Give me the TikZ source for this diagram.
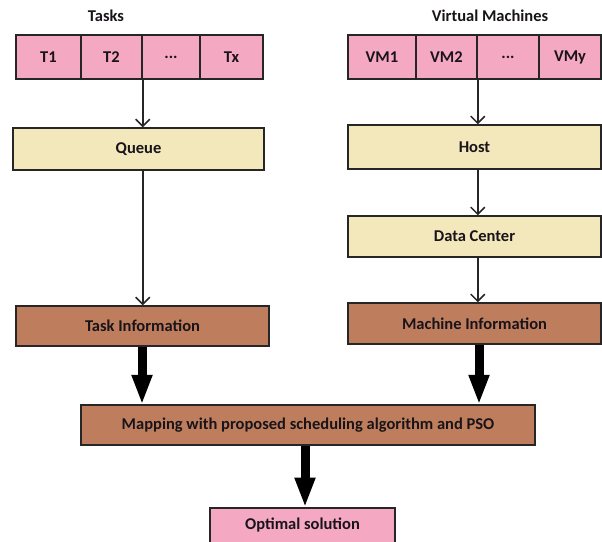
\documentclass[tikz,border=0pt]{standalone}
\usepackage{fontspec}
\setmainfont{Carlito}
\usetikzlibrary{arrows.meta}
\definecolor{pinkfill}{RGB}{245,168,194}
\definecolor{tanfill}{RGB}{243,232,188}
\definecolor{brownfill}{RGB}{190,126,94}
\definecolor{txt}{RGB}{25,20,25}
\tikzset{
  lbl/.style={text=txt, font=\fontsize{16.5}{19}\selectfont\bfseries},
  cell/.style={lbl, draw=black!85, line width=1.5pt, fill=pinkfill, inner sep=0pt, minimum height=44pt},
  tanbox/.style={lbl, draw=black!85, line width=1.5pt, fill=tanfill, inner sep=0pt},
  brownbox/.style={lbl, draw=black!85, line width=1.5pt, fill=brownfill, inner sep=0pt},
  pinkbox/.style={lbl, draw=black!85, line width=1.5pt, fill=pinkfill, inner sep=0pt},
  title/.style={lbl, inner sep=0pt},
  thin/.style={draw=black!85, line width=1.5pt, -{Straight Barb[length=7pt,width=14pt,line width=1.5pt]}},
  thick/.style={draw=black, line width=9pt, -{Triangle[length=30pt,width=19pt]}, shorten >=-0.5pt},
}
\begin{document}
\begin{tikzpicture}[x=1pt,y=-1pt]
\useasboundingbox (0,0) rectangle (602,541);
% titles
\node[title] (tasks) at (106,16) {Tasks};
\node[title] (vms) at (490,16) {Virtual Machines};
% task row (y 35-79)
\node[cell, minimum width=65pt] (t1) at (48.5,57) {T1};
\node[cell, minimum width=61pt] (t2) at (111.5,57) {T2};
\node[cell, minimum width=58pt] (t3) at (171,57) {...};
\node[cell, minimum width=63pt] (tx) at (231.5,57) {Tx};
% vm row
\node[cell, minimum width=68pt] (vm1) at (382,57) {VM1};
\node[cell, minimum width=61pt] (vm2) at (446.5,57) {VM2};
\node[cell, minimum width=62pt] (vm3) at (508,57) {...};
\node[cell, minimum width=62pt] (vmy) at (570,57) {VMy};
% middle boxes
\node[tanbox, minimum width=251pt, minimum height=42pt] (queue) at (138.5,149) {Queue};
\node[tanbox, minimum width=253pt, minimum height=44pt] (host) at (474.5,147) {Host};
\node[tanbox, minimum width=253pt, minimum height=41pt] (dc) at (474.5,236.5) {Data Center};
\node[brownbox, minimum width=253pt, minimum height=40pt] (tinfo) at (142.5,326) {Task Information};
\node[brownbox, minimum width=253pt, minimum height=41pt] (minfo) at (474.5,323.5) {Machine Information};
\node[brownbox, minimum width=454pt, minimum height=40pt] (map) at (308,425) {Mapping with proposed scheduling algorithm and PSO};
\node[pinkbox, minimum width=185pt, minimum height=44pt, anchor=north] (opt) at (302.5,507) {};
\node[title] (opttxt) at (302.5,525) {Optimal solution};
% thin connectors
\draw[thin] (t2.south east) -- (t2.south east |- queue.north);
\draw[thin] (queue.south -| t2.south east) -- (tinfo.north -| t2.south east);
\draw[thin] (vm2.south east) -- (vm2.south east |- host.north);
\draw[thin] (host.south -| vm2.south east) -- (dc.north -| vm2.south east);
\draw[thin] (dc.south -| vm2.south east) -- (minfo.north -| vm2.south east);
% thick arrows
\coordinate (ta) at (142,0);
\coordinate (ma) at (479,0);
\coordinate (oa) at (305,0);
\draw[thick] (tinfo.south -| ta) -- (map.north -| ta);
\draw[thick] (minfo.south -| ma) -- (map.north -| ma);
\draw[thick] (map.south -| oa) -- (opt.north -| oa);
\end{tikzpicture}
\end{document}
